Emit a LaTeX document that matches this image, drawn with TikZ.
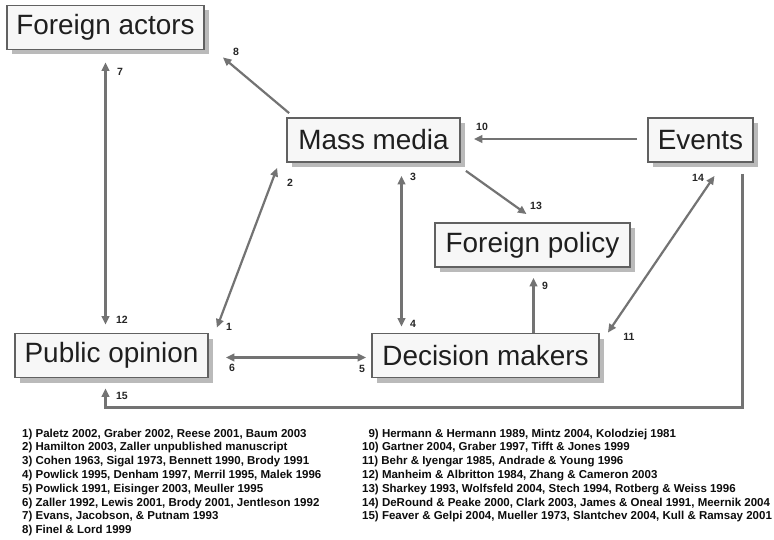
\documentclass[tikz,border=0pt]{standalone}
\usepackage{fontspec}
\setmainfont{Liberation Sans}
\usetikzlibrary{arrows.meta,calc,shadows}
\begin{document}
\begin{tikzpicture}[x=1pt,y=-1pt,
  box/.style={draw=black!62, line width=1.8pt, fill=black!3, minimum height=44pt, inner sep=0pt,
    font=\fontsize{27.9}{30}\selectfont, text=black!88,
    drop shadow={shadow xshift=5pt, shadow yshift=-5pt, fill=black!45, opacity=0.6}},
  conn/.style={draw=black!55, line width=2.2pt, -{Triangle[length=8.5pt,width=7.5pt]}},
  dconn/.style={draw=black!55, line width=2.2pt, {Triangle[length=8.5pt,width=7.5pt]}-{Triangle[length=8.5pt,width=7.5pt]}},
  num/.style={font=\bfseries\fontsize{10.5}{11}\selectfont, text=black!85, inner sep=0pt},
  ref/.style={font=\bfseries\fontsize{11.5}{12}\selectfont, anchor=base west, inner sep=0pt, text=black!95}
]
\useasboundingbox[fill=white] (0,0) rectangle (774,540);

% boxes
\node[box, minimum width=197pt] (FA) at (105.5,27.5) {Foreign actors};
\node[box, minimum width=173pt] (MM) at (373.5,140) {Mass media};
\node[box, minimum width=105pt] (EV) at (700.5,140) {Events};
\node[box, minimum width=195pt] (FP) at (532.5,245) {Foreign policy};
\node[box, minimum width=193pt] (PO) at (111.5,355.5) {Public opinion};
\node[box, minimum width=227pt] (DM) at (485.5,355.5) {Decision makers};

% connectors
\draw[dconn] ($(FA.south)+(0,12)$) -- ($(FA.south |- PO.north)+(0,-8)$);
\draw[conn] ($(MM.north west)+(3,-4)$) -- ($(FA.south east)+(18,7)$);
\draw[dconn] ($(PO.north east)+(8,-5)$) -- ($(MM.south west)+(-9,5)$);
\coordinate (c3) at ($(MM.south)+(28,13)$);
\draw[dconn] (c3) -- ($(c3 |- DM.north)+(0,-6)$);
\draw[conn] ($(EV.west)+(-10,-1)$) -- ($(MM.east)+(13,-1)$);
\draw[conn] ($(MM.south east)+(5,8)$) -- ($(FP.north)+(-6,-8)$);
\draw[dconn] ($(EV.south)+(14,13)$) -- ($(DM.north east)+(8,0)$);
\draw[conn] ($(DM.north)+(48,0)$) -- ($(FP.south)+(1,10)$);
\draw[dconn] ($(PO.east)+(17,2)$) -- ($(DM.west)+(-5,2)$);
\draw[conn] ($(EV.south)+(42,11)$) |- ($(FA.south |- PO.south)+(0,29)$) -- ($(FA.south |- PO.south)+(0,10)$);

% number labels
\node[num] (n7) at (120,72) {7};
\node[num] (n12) at (122,320) {12};
\node[num] (n8) at (236,52) {8};
\node[num] (n2) at (290,183) {2};
\node[num] (n1) at (229,327) {1};
\node[num] (n3) at (413,177) {3};
\node[num] (n4) at (413,324) {4};
\node[num] (n10) at (482,127) {10};
\node[num] (n13) at (536,206) {13};
\node[num] (n14) at (698,178) {14};
\node[num] (n11) at (629,337) {11};
\node[num] (n9) at (545,286) {9};
\node[num] (n6) at (232,368) {6};
\node[num] (n5) at (362,369) {5};
\node[num] (n15) at (122,396) {15};

% references
\node[ref] (r1) at (22,437) {1) Paletz 2002, Graber 2002, Reese 2001, Baum 2003};
\node[ref] (r2) at (22,450.8) {2) Hamilton 2003, Zaller unpublished manuscript};
\node[ref] (r3) at (22,464.6) {3) Cohen 1963, Sigal 1973, Bennett 1990, Brody 1991};
\node[ref] (r4) at (22,478.4) {4) Powlick 1995, Denham 1997, Merril 1995, Malek 1996};
\node[ref] (r5) at (22,492.2) {5) Powlick 1991, Eisinger 2003, Meuller 1995};
\node[ref] (r6) at (22,506) {6) Zaller 1992, Lewis 2001, Brody 2001, Jentleson 1992};
\node[ref] (r7) at (22,519.8) {7) Evans, Jacobson, \& Putnam 1993};
\node[ref] (r8) at (22,533.6) {8) Finel \& Lord 1999};
\node[ref] (r9) at (362,437) {\hphantom{1}9) Hermann \& Hermann 1989, Mintz 2004, Kolodziej 1981};
\node[ref] (r10) at (362,450.8) {10) Gartner 2004, Graber 1997, Tifft \& Jones 1999};
\node[ref] (r11) at (362,464.6) {11) Behr \& Iyengar 1985, Andrade \& Young 1996};
\node[ref] (r12) at (362,478.4) {12) Manheim \& Albritton 1984, Zhang \& Cameron 2003};
\node[ref] (r13) at (362,492.2) {13) Sharkey 1993, Wolfsfeld 2004, Stech 1994, Rotberg \& Weiss 1996};
\node[ref] (r14) at (362,506) {14) DeRound \& Peake 2000, Clark 2003, James \& Oneal 1991, Meernik 2004};
\node[ref] (r15) at (362,519.8) {15) Feaver \& Gelpi 2004, Mueller 1973, Slantchev 2004, Kull \& Ramsay 2001};
\end{tikzpicture}
\end{document}
